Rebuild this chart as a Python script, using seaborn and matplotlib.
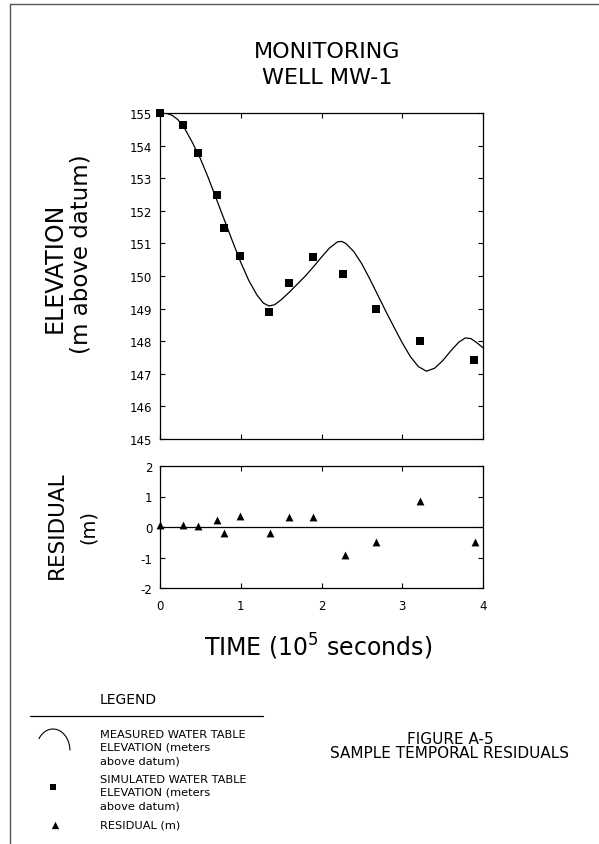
import matplotlib
matplotlib.use("Agg")
import matplotlib.pyplot as plt
from matplotlib.patches import Arc
import pandas as pd
import seaborn as sns

# measured water table elevation (solid curve)
meas_time = [0.00, 0.08, 0.15, 0.22, 0.30, 0.40, 0.50, 0.60, 0.70, 0.80, 0.90, 1.00,
             1.10, 1.20, 1.28, 1.35, 1.42, 1.50, 1.60, 1.70, 1.80, 1.90, 2.00, 2.10,
             2.20, 2.25, 2.30, 2.40, 2.50, 2.60, 2.70, 2.80, 2.90, 3.00, 3.10, 3.20,
             3.30, 3.40, 3.50, 3.60, 3.70, 3.78, 3.85, 3.92, 4.00]
meas_elev = [155.00, 154.99, 154.93, 154.80, 154.55, 154.10, 153.60, 153.00, 152.35, 151.70, 151.05, 150.42,
             149.86, 149.42, 149.17, 149.08, 149.12, 149.27, 149.50, 149.75, 150.00, 150.28, 150.58, 150.86,
             151.05, 151.06, 151.00, 150.75, 150.37, 149.90, 149.40, 148.90, 148.42, 147.95, 147.53, 147.22,
             147.08, 147.17, 147.40, 147.70, 147.97, 148.10, 148.08, 147.96, 147.80]

# simulated water table elevation (squares)
sim_time = [0.00, 0.29, 0.47, 0.70, 0.79, 0.99, 1.35, 1.60, 1.89, 2.27, 2.68, 3.22, 3.89]
sim_elev = [155.00, 154.64, 153.76, 152.48, 151.46, 150.60, 148.89, 149.79, 150.58, 150.07, 148.99, 148.00, 147.43]

# residuals (triangles)
res_time = [0.00, 0.29, 0.47, 0.70, 0.79, 0.99, 1.36, 1.60, 1.90, 2.29, 2.68, 3.22, 3.90]
residual = [0.05, 0.05, 0.03, 0.24, -0.19, 0.36, -0.19, 0.34, 0.32, -0.91, -0.48, 0.84, -0.48]

x_ticks = [0, 1, 2, 3, 4]
elev_ticks = list(range(145, 156))
res_ticks = [-2, -1, 0, 1, 2]

sns.set_style("ticks")
plt.rcParams["font.family"] = ["DejaVu Sans"]
plt.rcParams["text.color"] = "black"
plt.rcParams["axes.unicode_minus"] = False

W, H = 599, 845
fig = plt.figure(figsize=(W / 100, H / 100), dpi=100)

# overlay in pixel coordinates for page text / border / legend
ov = fig.add_axes([0, 0, 1, 1])
ov.set_xlim(0, W)
ov.set_ylim(H, 0)
ov.axis("off")


def frac(l, t, r, b):
    return [l / W, 1 - b / H, (r - l) / W, (b - t) / H]


ax1 = fig.add_axes(frac(160, 114, 483, 440))
ax2 = fig.add_axes(frac(160, 467, 483, 589))

meas = pd.DataFrame({"t": meas_time, "e": meas_elev})
sim = pd.DataFrame({"t": sim_time, "e": sim_elev})
res = pd.DataFrame({"t": res_time, "r": residual})

sns.lineplot(data=meas, x="t", y="e", ax=ax1, color="black", lw=0.9, sort=False)
sns.scatterplot(data=sim, x="t", y="e", ax=ax1, marker="s", s=30, color="black",
                linewidth=0, zorder=5, clip_on=False)

ax2.axhline(0, color="black", lw=0.9)
sns.scatterplot(data=res, x="t", y="r", ax=ax2, marker="^", s=32, color="black",
                linewidth=0, zorder=5, clip_on=False)

for ax in (ax1, ax2):
    ax.set_xlim(0, 4)
    ax.set_xticks(x_ticks)
    ax.set_xlabel("")
    ax.set_ylabel("")
    for sp in ax.spines.values():
        sp.set_visible(True)
        sp.set_linewidth(0.9)
        sp.set_color("black")
    ax.tick_params(direction="in", length=3.8, width=0.8, top=True, right=True,
                   labelsize=8.5, colors="black", pad=5.5)

ax1.set_ylim(145, 155)
ax1.set_yticks(elev_ticks)
ax1.set_xticklabels([])

ax2.set_ylim(-2, 2)
ax2.set_yticks(res_ticks)
ax2.tick_params(axis="x", pad=8)

# page text
ov.text(327, 52, "MONITORING", ha="center", va="center", fontsize=16)
ov.text(327, 78, "WELL MW-1", ha="center", va="center", fontsize=16)
ov.text(55, 268, "ELEVATION", ha="center", va="center", rotation=90, fontsize=17)
ov.text(81, 254, "(m above datum)", ha="center", va="center", rotation=90, fontsize=16.5)
ov.text(57, 525, "RESIDUAL", ha="center", va="center", rotation=90, fontsize=15.5)
ov.text(88, 527, "(m)", ha="center", va="center", rotation=90, fontsize=14)
ov.text(318, 647, "TIME (10$^5$ seconds)", ha="center", va="center", fontsize=17)

# page border
ov.plot([10, 10], [5, H], color="#555555", lw=1)
ov.plot([10, W], [5, 5], color="#555555", lw=1)

# legend block
ov.text(128, 700, "LEGEND", ha="center", va="center", fontsize=10)
ov.plot([30, 263], [717, 717], color="black", lw=0.9)
ov.add_patch(Arc((53, 752), 34, 44, theta1=220, theta2=358, color="black", lw=0.8))
ov.scatter([53], [788], marker="s", s=22, color="black", linewidth=0)
ov.scatter([55], [826], marker="^", s=28, color="black", linewidth=0)

leg_lines = [
    (735, "MEASURED WATER TABLE"), (748, "ELEVATION (meters"), (762, "above datum)"),
    (780, "SIMULATED WATER TABLE"), (793, "ELEVATION (meters"), (807, "above datum)"),
    (826, "RESIDUAL (m)"),
]
for y, s in leg_lines:
    ov.text(100, y, s, ha="left", va="center", fontsize=8.2)

ov.text(450, 740, "FIGURE A-5", ha="center", va="center", fontsize=11)
ov.text(450, 754, "SAMPLE TEMPORAL RESIDUALS", ha="center", va="center", fontsize=11)

fig.savefig("out.png", dpi=100, facecolor="white")
